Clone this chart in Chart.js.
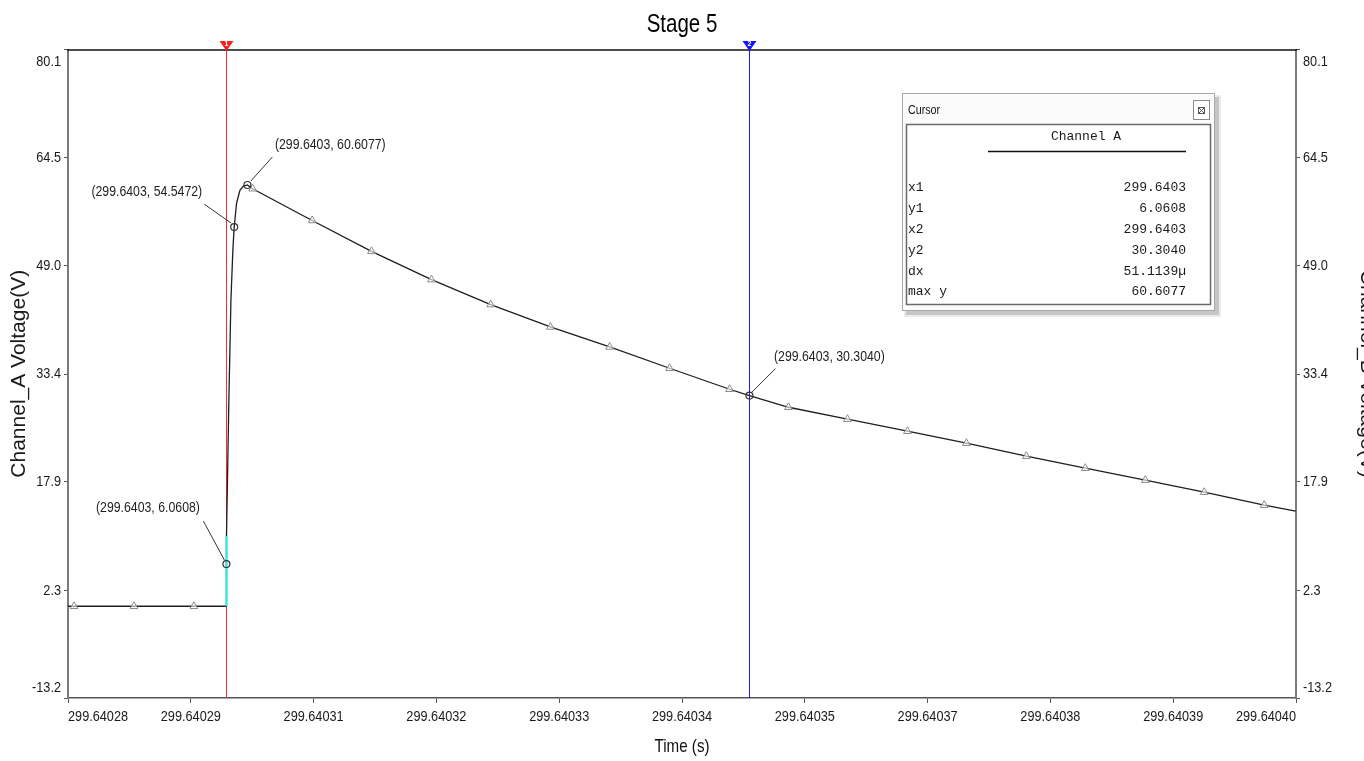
<!DOCTYPE html>
<html>
<head>
<meta charset="utf-8">
<title>Stage 5</title>
<script src="https://cdn.jsdelivr.net/npm/chart.js@4.4.1/dist/chart.umd.min.js"></script>
<style>
  html, body { margin: 0; padding: 0; background: #fff; overflow: hidden; }
  #wrap { width: 1364px; height: 761px; position: relative; }
</style>
</head>
<body>
<div id="wrap"><canvas id="c" width="1364" height="761"></canvas></div>
<script>
// Channel A voltage around the Stage 5 pulse edge.
// Times are microseconds after T0_S seconds.
const T0_S = 299.64;

const waveTimeUs = [
  282.20, 282.79, 288.65, 294.50, 297.66, 297.68, 297.70, 297.92, 298.12, 298.31,
  298.44, 298.67, 299.00, 299.32, 299.73, 300.24, 306.06, 311.86, 317.72, 323.51,
  329.34, 335.13, 340.99, 346.85, 348.7939, 352.61, 358.37, 364.23, 369.99, 375.85,
  381.61, 387.47, 393.23, 399.09, 402.17
];
const waveVolts = [
  0.00, 0.00, 0.00, 0.00, 0.00, 6.0608, 10.2, 29.6, 44.0, 51.2,
  54.5472, 57.96, 59.83, 60.41, 60.6077, 60.07, 55.5, 51.06, 46.99, 43.4,
  40.18, 37.3, 34.24, 31.22, 30.304, 28.63, 26.91, 25.18, 23.46, 21.59,
  19.86, 18.14, 16.41, 14.54, 13.68
];

// Samples drawn with triangle markers
const sampleTimeUs = [
  282.79, 288.65, 294.50, 300.24, 306.06, 311.86, 317.72, 323.51, 329.34, 335.13,
  340.99, 346.85, 352.61, 358.37, 364.23, 369.99, 375.85, 381.61, 387.47, 393.23, 399.09
];
const sampleVolts = [
  0.00, 0.00, 0.00, 60.07, 55.5, 51.06, 46.99, 43.4, 40.18, 37.3,
  34.24, 31.22, 28.63, 26.91, 25.18, 23.46, 21.59, 19.86, 18.14, 16.41, 14.54
];

// Highlighted part of the rising edge
const edgeTimeUs = [297.68, 297.68];
const edgeVolts = [0.0, 10.1];

// Cursors 1 and 2
const cursorTimeUs = [297.68, 348.7939];
const cursorVolts = [6.0608, 30.304];

// Labelled points: peak, knee, cursor 1, cursor 2
const labelTimeUs = [299.73, 298.44, 297.68, 348.7939];
const labelVolts = [60.6077, 54.5472, 6.0608, 30.304];

const xTickLabels = ['299.64028', '299.64029', '299.64031', '299.64032', '299.64033', '299.64034',
                     '299.64035', '299.64037', '299.64038', '299.64039', '299.64040'];
const xTickStartUs = 282.2;
const xTickStepUs = 12;
const yTickLabels = ['80.1', '64.5', '49.0', '33.4', '17.9', '2.3', '-13.2'];

const SANS = "'Liberation Sans', Arial, sans-serif";
const MONO = "'Liberation Mono', 'Courier New', monospace";
const NARROW_SX = 0.82;   // horizontal squeeze for the condensed UI lettering

const pts = (xs, ys) => xs.map((x, i) => ({ x: x, y: ys[i] }));
const fmtSec = us => (T0_S + us * 1e-6).toFixed(4);

// condensed text: Liberation Sans squeezed horizontally
function narrowText(ctx, text, x, y, size, align, color) {
  ctx.save();
  ctx.translate(x, y);
  ctx.scale(NARROW_SX, 1);
  ctx.font = size + 'px ' + SANS;
  ctx.fillStyle = color;
  ctx.textAlign = align;
  ctx.textBaseline = 'middle';
  ctx.fillText(text, 0, 0);
  ctx.restore();
}

// Placement of each point label relative to its point: text anchor and leader line
const labelLayout = [
  { dx: 27.5, dy: -40, align: 'left',  l0: [3.5, -4], l1: [25, -28] },
  { dx: -32,  dy: -35, align: 'right', l0: [-3, -4],  l1: [-30, -23] },
  { dx: -26.5, dy: -56, align: 'right', l0: [-2, -4], l1: [-23, -43] },
  { dx: 24.5, dy: -38.6, align: 'left', l0: [2, -3],  l1: [26, -27] }
];

const overlay = {
  id: 'overlay',
  beforeDatasetsDraw(chart) {
    const { ctx, chartArea: a, scales } = chart;
    const colors = ['#ff2a2a', '#1a1aff'];
    ctx.save();
    cursorTimeUs.forEach((t, i) => {
      const px = Math.round(scales.x.getPixelForValue(t)) + 0.5;
      ctx.strokeStyle = colors[i];
      ctx.lineWidth = 1;
      ctx.beginPath();
      ctx.moveTo(px, a.top - 6);
      ctx.lineTo(px, a.bottom);
      ctx.stroke();
    });
    ctx.restore();
  },
  afterDatasetsDraw(chart) {
    const { ctx, chartArea: a, scales } = chart;
    ctx.save();
    // frame top edge
    ctx.strokeStyle = '#111';
    ctx.lineWidth = 1.5;
    ctx.beginPath();
    ctx.moveTo(a.left - 1, a.top + 0.5);
    ctx.lineTo(a.right + 1, a.top + 0.5);
    ctx.stroke();

    // cursor flags
    const flagColors = ['#ff1e1e', '#1414ff'];
    cursorTimeUs.forEach((t, i) => {
      const px = Math.round(scales.x.getPixelForValue(t)) + 0.5;
      ctx.fillStyle = flagColors[i];
      ctx.beginPath();
      ctx.moveTo(px - 7, a.top - 8.5);
      ctx.lineTo(px + 7, a.top - 8.5);
      ctx.lineTo(px, a.top + 1.5);
      ctx.closePath();
      ctx.fill();
      ctx.fillStyle = '#fff';
      ctx.font = 'bold 7px ' + SANS;
      ctx.textAlign = 'center';
      ctx.textBaseline = 'middle';
      ctx.fillText(String(i + 1), px, a.top - 5);
    });

    // point labels with leader lines
    labelTimeUs.forEach((t, i) => {
      const px = scales.x.getPixelForValue(t);
      const py = scales.y.getPixelForValue(labelVolts[i]);
      const L = labelLayout[i];
      ctx.strokeStyle = '#333';
      ctx.lineWidth = 1;
      ctx.beginPath();
      ctx.moveTo(px + L.l0[0], py + L.l0[1]);
      ctx.lineTo(px + L.l1[0], py + L.l1[1]);
      ctx.stroke();
      narrowText(ctx, '(' + fmtSec(t) + ', ' + labelVolts[i].toFixed(4) + ')',
                 px + L.dx, py + L.dy, 15, L.align, '#1e1e1e');
    });

    // y tick labels, kept inside the frame at the ends
    ['y', 'y2'].forEach(id => {
      const s = scales[id];
      const x = id === 'y' ? s.right - 7 : s.left + 7;
      yTickLabels.forEach(lab => {
        let py = s.getPixelForValue(parseFloat(lab));
        py = Math.min(Math.max(py, a.top + 12), a.bottom - 10);
        narrowText(ctx, lab, x, py, 15.5, id === 'y' ? 'right' : 'left', '#1a1a1a');
      });
    });

    // x tick labels: first and last held inside the axis span
    const xs = scales.x;
    xTickLabels.forEach((lab, i) => {
      const px = xs.getPixelForValue(xTickStartUs + i * xTickStepUs);
      const align = i === 0 ? 'left' : (i === xTickLabels.length - 1 ? 'right' : 'center');
      narrowText(ctx, lab, px, a.bottom + 19, 15.5, align, '#1a1a1a');
    });

    // axis and chart titles
    narrowText(ctx, 'Time (s)', (a.left + a.right) / 2, a.bottom + 49, 18.5, 'center', '#111');
    narrowText(ctx, 'Stage 5', chart.width / 2, 25, 25, 'center', '#000');
    ctx.restore();
  },
  afterDraw(chart) {
    const ctx = chart.ctx;
    ctx.save();
    // Cursor readout window
    const X = 902, Y = 93, W = 313, H = 218;
    ctx.fillStyle = 'rgba(0,0,0,0.16)';
    ctx.fillRect(X + 4, Y + 4, W, H);
    ctx.fillStyle = 'rgba(0,0,0,0.08)';
    ctx.fillRect(X + 2, Y + 2, W + 4, H + 4);
    ctx.fillStyle = '#fbfbfb';
    ctx.fillRect(X, Y, W, H);
    ctx.strokeStyle = '#a8a8a8';
    ctx.lineWidth = 1;
    ctx.strokeRect(X + 0.5, Y + 0.5, W - 1, H - 1);

    narrowText(ctx, 'Cursor', X + 6, Y + 17, 13, 'left', '#111');

    // close box
    ctx.fillStyle = '#fff';
    ctx.fillRect(1193, 100, 17, 20);
    ctx.strokeStyle = '#8a8a8a';
    ctx.strokeRect(1193.5, 100.5, 16, 19);
    ctx.strokeStyle = '#555';
    ctx.strokeRect(1198.5, 107.5, 6, 6);
    ctx.beginPath();
    ctx.moveTo(1199, 108); ctx.lineTo(1204, 113);
    ctx.moveTo(1204, 108); ctx.lineTo(1199, 113);
    ctx.stroke();

    // inner table
    ctx.fillStyle = '#fff';
    ctx.fillRect(906, 124, 305, 181);
    ctx.strokeStyle = '#6a6a6a';
    ctx.lineWidth = 1.5;
    ctx.strokeRect(906.5, 124.5, 304, 180);

    ctx.fillStyle = '#1a1a1a';
    ctx.font = '13px ' + MONO;
    ctx.textAlign = 'center';
    ctx.textBaseline = 'middle';
    ctx.fillText('Channel A', 1086, 137);
    ctx.strokeStyle = '#111';
    ctx.lineWidth = 1.5;
    ctx.beginPath();
    ctx.moveTo(988, 151.5);
    ctx.lineTo(1186, 151.5);
    ctx.stroke();

    const maxV = Math.max.apply(null, waveVolts);
    const rows = [
      ['x1', fmtSec(cursorTimeUs[0])],
      ['y1', cursorVolts[0].toFixed(4)],
      ['x2', fmtSec(cursorTimeUs[1])],
      ['y2', cursorVolts[1].toFixed(4)],
      ['dx', (cursorTimeUs[1] - cursorTimeUs[0]).toFixed(4) + 'µ'],
      ['max y', maxV.toFixed(4)]
    ];
    rows.forEach((r, i) => {
      const y = 188 + i * 20.8;
      ctx.textAlign = 'left';
      ctx.fillText(r[0], 908, y);
      ctx.textAlign = 'right';
      ctx.fillText(r[1], 1186, y);
    });
    ctx.restore();
  }
};

const yAxis = (position, title, titlePad) => ({
  type: 'linear',
  position: position,
  min: -13.2,
  max: 80.1,
  afterBuildTicks: s => { s.ticks = yTickLabels.map(t => ({ value: parseFloat(t) })); },
  afterFit: s => { s.width = 68; },
  ticks: { display: false },
  grid: { drawOnChartArea: false, drawTicks: true, tickLength: 4, color: '#555', tickWidth: 1 },
  border: { display: true, color: '#7a7a7a', width: 2 },
  title: {
    display: true,
    text: title,
    color: '#1a1a1a',
    font: { family: SANS, size: 21, weight: 'normal' },
    padding: { top: titlePad, bottom: 0 }
  }
});

new Chart(document.getElementById('c').getContext('2d'), {
  type: 'scatter',
  data: {
    datasets: [
      {
        label: 'Channel A',
        data: pts(waveTimeUs, waveVolts),
        showLine: true,
        borderColor: '#1e1e1e',
        borderWidth: 1.3,
        pointRadius: 0,
        order: 3
      },
      {
        label: 'edge',
        data: pts(edgeTimeUs, edgeVolts),
        showLine: true,
        borderColor: '#22eeee',
        borderWidth: 2,
        pointRadius: 0,
        order: 2
      },
      {
        label: 'samples',
        data: pts(sampleTimeUs, sampleVolts),
        showLine: false,
        pointStyle: 'triangle',
        pointRadius: 4.5,
        borderColor: '#8a8a8a',
        backgroundColor: 'rgba(255,255,255,0.6)',
        borderWidth: 1,
        order: 1
      },
      {
        label: 'labelled',
        data: pts(labelTimeUs, labelVolts),
        showLine: false,
        pointStyle: 'circle',
        pointRadius: 3.5,
        borderColor: '#333',
        backgroundColor: 'rgba(0,0,0,0)',
        borderWidth: 1.2,
        order: 0
      }
    ]
  },
  options: {
    responsive: false,
    animation: false,
    events: [],
    layout: { padding: { top: 49.5 } },
    plugins: {
      legend: { display: false },
      tooltip: { enabled: false },
      title: { display: false }
    },
    scales: {
      x: {
        type: 'linear',
        position: 'bottom',
        min: xTickStartUs,
        max: xTickStartUs + xTickStepUs * (xTickLabels.length - 1),
        afterBuildTicks: s => { s.ticks = xTickLabels.map((_, i) => ({ value: xTickStartUs + i * xTickStepUs })); },
        afterFit: s => { s.height = 63; },
        ticks: { display: false },
        grid: { drawOnChartArea: false, drawTicks: true, tickLength: 5, color: '#555', tickWidth: 1 },
        border: { display: true, color: '#555', width: 1.5 },
        title: { display: false }
      },
      y: yAxis('left', 'Channel_A Voltage(V)', 6.4),
      y2: yAxis('right', 'Channel_B Voltage(V)', -15.6)
    }
  },
  plugins: [overlay]
});
</script>
</body>
</html>
